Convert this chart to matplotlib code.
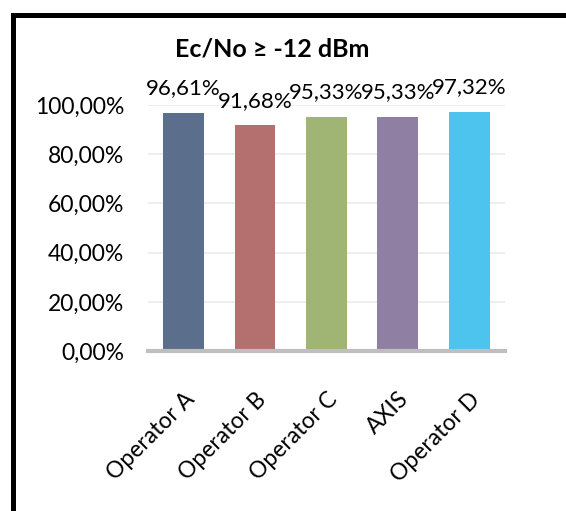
import matplotlib
matplotlib.use("Agg")
import matplotlib.pyplot as plt
from matplotlib.patches import Rectangle
from matplotlib.ticker import FuncFormatter

operators = ["Operator A", "Operator B", "Operator C", "AXIS", "Operator D"]
coverage = [96.61, 91.68, 95.33, 95.33, 97.32]
bar_colors = ["#5b6f8d", "#b46f6f", "#a0b474", "#8f7fa3", "#4cc4ee"]
yticks = [0, 20, 40, 60, 80, 100]

plt.rcParams["font.family"] = ["Lato", "DejaVu Sans"]


def pct(v):
    return f"{v:.2f}".replace(".", ",") + "%"


fig = plt.figure(figsize=(5.66, 5.11), dpi=100)
ax = fig.add_axes([0.2615, 0.313, 0.6305, 0.4815])

x = range(len(operators))
ax.bar(x, coverage, width=0.57, color=bar_colors, zorder=3)
for i, v in zip(x, coverage):
    ax.text(i, v + 6, pct(v), ha="center", va="bottom", fontsize=16, clip_on=False)

ax.set_xlim(-0.5, len(operators) - 0.5)
ax.set_ylim(0, 100)
ax.set_yticks(yticks)
ax.yaxis.set_major_formatter(FuncFormatter(lambda v, _: pct(v)))
ax.set_xticks(list(x))
ax.set_xticklabels(operators, rotation=45, ha="right", rotation_mode="anchor")
ax.tick_params(axis="both", length=0, labelsize=16.5)
ax.tick_params(axis="y", pad=17)
ax.tick_params(axis="x", pad=27)
ax.grid(axis="y", color="#ebebeb", linewidth=1.2, zorder=0)
for s in ["top", "right", "left"]:
    ax.spines[s].set_visible(False)
ax.spines["bottom"].set_color("#bfbfbf")
ax.spines["bottom"].set_linewidth(3)
ax.spines["bottom"].set_zorder(4)

fig.text(272 / 566, 1 - 49 / 511, "Ec/No ≥ -12 dBm", ha="center", va="center",
         fontsize=18, fontweight="bold")

# heavy outer frame
fig.add_artist(Rectangle((12.5 / 566, -0.1), 1.2, 1 - 14.5 / 511 + 0.1,
                         transform=fig.transFigure, fill=False,
                         edgecolor="black", linewidth=3.6))

fig.savefig("out.png", dpi=100)
